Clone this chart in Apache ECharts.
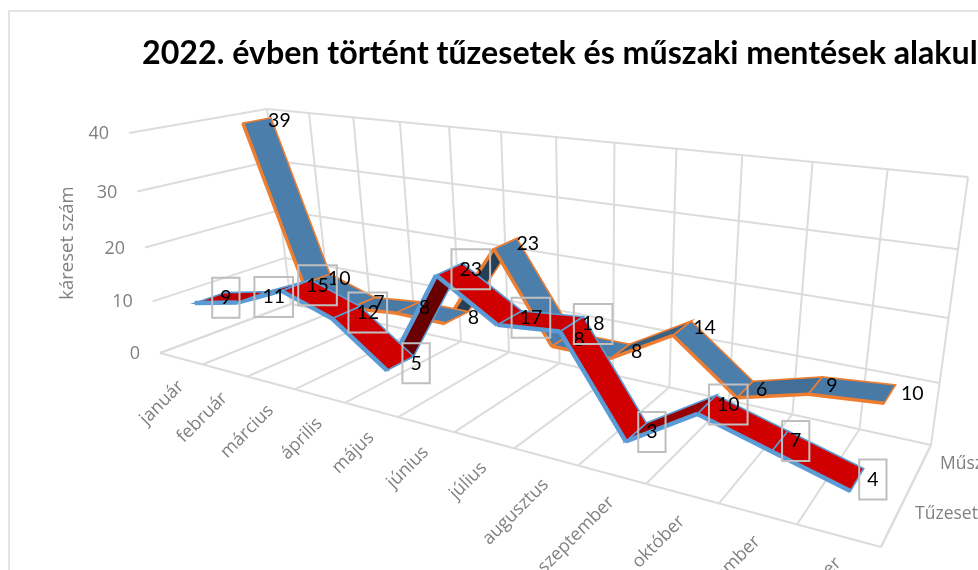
<!DOCTYPE html>
<html>
<head>
<meta charset="utf-8">
<title>2022. évben történt tűzesetek és műszaki mentések alakulása</title>
<style>
  html, body { margin: 0; padding: 0; background: #fff; overflow: hidden; }
  #chart { width: 978px; height: 570px; }
</style>
</head>
<body>
<div id="chart"></div>
<script src="https://cdn.jsdelivr.net/npm/echarts@6/dist/echarts.min.js"></script>
<script>
const titleText = '2022. évben történt tűzesetek és műszaki mentések alakul'
const yAxisName = 'káreset szám'
const months = ['január', 'február', 'március', 'április', 'május', 'június', 'július', 'augusztus', 'szeptember', 'október', 'november', 'december']
const yTicks = [0, 10, 20, 30, 40]
const fireName = 'Tűzeset'
const rescueName = 'Műszaki mentés'
const fireValues = [9, 11, 15, 12, 5, 23, 17, 18, 3, 10, 7, 4]
const rescueValues = [39, 10, 7, 8, 8, 23, 8, 8, 14, 6, 9, 10]

const font = 'Lato, Carlito, sans-serif'
const axisFont = '"Open Sans", sans-serif'
const gridColor = '#dcdcdc'
const axisText = '#808080'
const lift = 0.008 // ribbons float a little over the floor

// screen corners of the 3D box, [u][d][v]: u along months, d into depth, v up
const box = {
  '000': [160, 353], '100': [881, 547], '010': [291, 304], '110': [931, 445],
  '001': [129, 133], '101': [918, 242], '011': [267, 109], '111': [968, 177]
}

// rational trilinear map, the weight gives the perspective shrink
const project = (u, d, v) => {
  let sx = 0, sy = 0, sw = 0
  for (const key in box) {
    const a = +key[0], b = +key[1], c = +key[2]
    const blend = (a ? u : 1 - u) * (b ? d : 1 - d) * (c ? v : 1 - v)
    const w = (1 - 0.31 * a + 0.12 * b - 0.08 * c) * blend
    sx += box[key][0] * w
    sy += box[key][1] * w
    sw += w
  }
  return [sx / sw, sy / sw]
}

// months and values go through the hidden cartesian axes, then into the box
const toBox = (api, params, cat, val) => {
  const p = api.coord([cat, val])
  const cs = params.coordSys
  return { u: (p[0] - cs.x) / cs.width, v: 1 - (p[1] - cs.y) / cs.height }
}

const line = (a, b, color, width) => ({
  type: 'line',
  shape: { x1: a[0], y1: a[1], x2: b[0], y2: b[1] },
  style: { stroke: color, lineWidth: width }
})

const shadeColor = (rgb, dv) => {
  const f = Math.min(1, Math.max(0.5, 1 - 0.04 * dv))
  return `rgb(${rgb.map(c => Math.round(c * f)).join(',')})`
}

// box walls, floor and the axis texts
const renderFrame = (params, api) => {
  const n = months.length
  const kids = []
  for (let i = 0; i <= n; i++) {
    const u = i / n
    kids.push(line(project(u, 0, 0), project(u, 1, 0), gridColor, 2))
    kids.push(line(project(u, 1, 0), project(u, 1, 1), gridColor, 2))
  }
  yTicks.forEach(t => {
    const v = toBox(api, params, 0, t).v
    kids.push(line(project(0, 1, v), project(1, 1, v), gridColor, 2))
    kids.push(line(project(0, 0, v), project(0, 1, v), gridColor, 2))
    const p = project(0, 0, v)
    kids.push({
      type: 'text',
      x: p[0] - 20, y: p[1] + 1,
      style: { text: String(t), textAlign: 'right', textVerticalAlign: 'middle', fill: axisText, font: `18px ${axisFont}` }
    })
  })
  kids.push(line(project(0, 0, 0), project(1, 0, 0), gridColor, 2))
  kids.push(line(project(1, 0, 0), project(1, 1, 0), gridColor, 2))
  months.forEach((m, i) => {
    const p = project(toBox(api, params, i, 0).u, 0, 0)
    kids.push({
      type: 'text',
      x: p[0], y: p[1] + 25,
      rotation: Math.PI / 4,
      style: { text: m, textAlign: 'right', textVerticalAlign: 'middle', fill: axisText, font: `18px ${axisFont}` }
    })
  })
  ;[[fireName, 0.25], [rescueName, 0.75]].forEach(([name, d]) => {
    const p = project(1, d, 0)
    kids.push({
      type: 'text',
      x: p[0] + 20, y: p[1] - 4,
      style: { text: name, textAlign: 'left', textVerticalAlign: 'middle', fill: axisText, font: `17.5px ${axisFont}` }
    })
  })
  return { type: 'group', children: kids }
}

// one ribbon segment between two neighbouring months
const ribbonRenderer = (d0, d1, rgb, edge, edgeWidth) => (params, api) => {
  const i = api.value(0)
  const a = toBox(api, params, i, api.value(1))
  const b = toBox(api, params, i + 1, api.value(2))
  const dv = api.value(2) - api.value(1)
  const pts = [
    project(a.u, d0, a.v + lift), project(b.u, d0, b.v + lift),
    project(b.u, d1, b.v + lift), project(a.u, d1, a.v + lift)
  ]
  return {
    type: 'group',
    children: [
      { type: 'polygon', shape: { points: pts }, style: { fill: shadeColor(rgb, dv), stroke: edge, lineWidth: 1.6 } },
      line(pts[0], pts[1], edge, edgeWidth)
    ]
  }
}

const labelRenderer = (depth, boxed) => (params, api) => {
  const val = api.value(1)
  const a = toBox(api, params, api.value(0), val)
  const p = project(a.u, depth, a.v + lift)
  const style = { text: String(val), textAlign: 'left', textVerticalAlign: 'middle', fill: '#000', font: `19.5px ${font}` }
  if (boxed) {
    style.borderColor = '#bfbfbf'
    style.borderWidth = 2
    style.padding = [10, 8]
  }
  return { type: 'text', x: p[0] + (boxed ? 2 : 11), y: p[1], style }
}

// far parts first: rising segments lie under the falling ones
const segments = values => values.slice(0, -1)
  .map((v, i) => [i, v, values[i + 1]])
  .sort((a, b) => (b[2] - b[1]) - (a[2] - a[1]))

const points = values => values.map((v, i) => [i, v])

const base = { type: 'custom', clip: false, silent: true, xAxisIndex: 0, yAxisIndex: 0 }

const chart = echarts.init(document.getElementById('chart'), null, { renderer: 'canvas' })
chart.setOption({
  animation: false,
  backgroundColor: '#fff',
  title: {
    text: titleText,
    left: 137,
    top: 33,
    textStyle: { fontFamily: font, fontSize: 32.2, fontWeight: 'bold', color: '#000' }
  },
  grid: { left: 0, right: 0, top: 0, bottom: 0 },
  xAxis: { type: 'category', data: months, show: false },
  yAxis: { type: 'value', min: 0, max: 40, interval: 10, show: false },
  graphic: [
    { type: 'rect', shape: { x: 9, y: 11, width: 1100, height: 700 }, style: { fill: 'none', stroke: '#dadada', lineWidth: 1.5 }, z: 0 },
    {
      type: 'text', x: 68, y: 243, rotation: Math.PI / 2,
      style: { text: yAxisName, textAlign: 'center', textVerticalAlign: 'middle', fill: axisText, font: `18.5px ${axisFont}` }
    }
  ],
  series: [
    { ...base, name: 'frame', z: 1, data: [[0, 0]], renderItem: renderFrame },
    { ...base, name: rescueName, z: 2, data: segments(rescueValues), renderItem: ribbonRenderer(0.64, 0.86, [76, 126, 172], '#ed7d31', 3.5) },
    { ...base, name: fireName, z: 3, data: segments(fireValues), renderItem: ribbonRenderer(0.14, 0.36, [208, 0, 0], '#5b9bd5', 4.5) },
    { ...base, name: rescueName + ' címke', z: 4, data: points(rescueValues), renderItem: labelRenderer(0.75, false) },
    { ...base, name: fireName + ' címke', z: 5, data: points(fireValues), renderItem: labelRenderer(0.25, true) }
  ]
})
</script>
</body>
</html>
